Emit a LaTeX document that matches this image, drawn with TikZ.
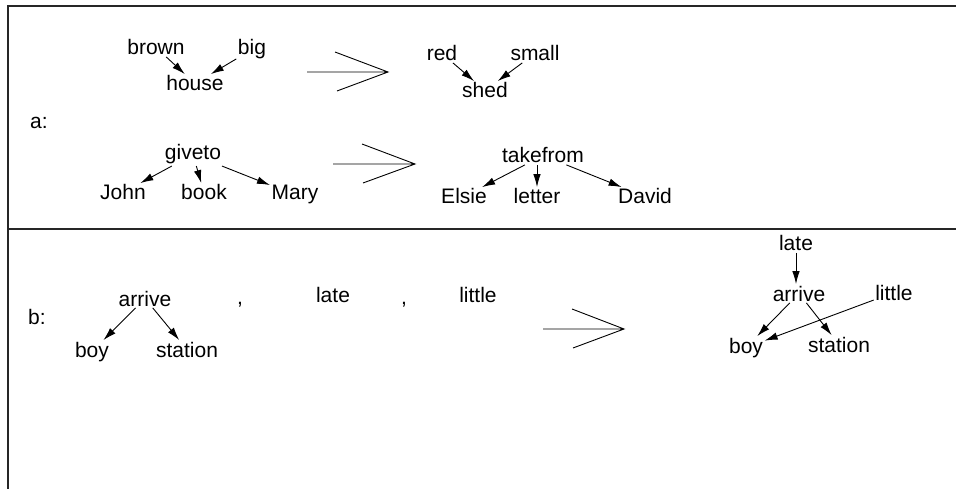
\documentclass[tikz,border=0pt]{standalone}
\usepackage{fontspec}
\setmainfont{Liberation Sans}
\usetikzlibrary{arrows.meta}

\begin{document}
\begin{tikzpicture}
    [x=1pt, y=-1pt,
     word/.style={anchor=base, inner sep=1.5pt, font=\fontsize{21}{25}\selectfont},
     tree arrow/.style={-{Latex[length=13pt,width=7.5pt]}, line width=0.9pt},
     big arrow/.style={line width=0.9pt},
     frame line/.style={line width=1.2pt, black!85}]
    \useasboundingbox (0,0) rectangle (956,489);
    \draw[frame line] (8,489) -- (8,6) -- (956,6);
    \draw[frame line] (8,229) -- (956,229);

    % a: adjectives
    \node[word] (la) at (39,129) {a:};
    \node[word] (brown) at (156,55) {brown};
    \node[word] (big) at (252,55) {big};
    \node[word] (house) at (195,91) {house};
    \draw[tree arrow] (brown) -- (house);
    \draw[tree arrow] (big) -- (house);
    \draw[big arrow] (307,72) -- (388,72) (335,52) -- (388,72) -- (337,91);
    \node[word] (red) at (442,61) {red};
    \node[word] (small) at (535,61) {small};
    \node[word] (shed) at (485,98) {shed};
    \draw[tree arrow] (red) -- (shed);
    \draw[tree arrow] (small) -- (shed);

    % a: verbs
    \node[word] (giveto) at (193,160) {giveto};
    \node[word] (john) at (123,200) {John};
    \node[word] (book) at (204,200) {book};
    \node[word] (mary) at (295,200) {Mary};
    \draw[tree arrow] (giveto) -- (john);
    \draw[tree arrow] (giveto) -- (book);
    \draw[tree arrow] (giveto) -- (mary);
    \draw[big arrow] (333,164) -- (415,164) (362,144) -- (415,164) -- (363,183);
    \node[word] (takefrom) at (543,163) {takefrom};
    \node[word] (elsie) at (464,204) {Elsie};
    \node[word] (letter) at (537,204) {letter};
    \node[word] (david) at (645,204) {David};
    \draw[tree arrow] (takefrom) -- (elsie);
    \draw[tree arrow] (takefrom.south -| letter.north) -- (letter.north);
    \draw[tree arrow] (takefrom) -- (david);

    % b:
    \node[word] (lb) at (37,324) {b:};
    \node[word] (arrive) at (145,306) {arrive};
    \node[word] (boy) at (92,357) {boy};
    \node[word] (station) at (187,357) {station};
    \draw[tree arrow] (arrive) -- (boy);
    \draw[tree arrow] (arrive) -- (station);
    \node[word] (comma1) at (240,305) {,};
    \node[word] (late) at (333,302) {late};
    \node[word] (comma2) at (404,305) {,};
    \node[word] (little) at (478,302) {little};
    \draw[big arrow] (543,329) -- (624,329) (572,309) -- (624,329) -- (573,348);
    \node[word] (late2) at (796,251) {late};
    \node[word] (arrive2) at (799,301) {arrive};
    \node[word] (little2) at (894,300) {little};
    \node[word] (boy2) at (746,353) {boy};
    \node[word] (station2) at (839,352) {station};
    \draw[tree arrow] (late2.south) -- (late2.south |- arrive2.north);
    \draw[tree arrow] (arrive2) -- (boy2);
    \draw[tree arrow] (arrive2) -- (station2);
    \draw[tree arrow] (little2) -- (boy2);
\end{tikzpicture}
\end{document}
